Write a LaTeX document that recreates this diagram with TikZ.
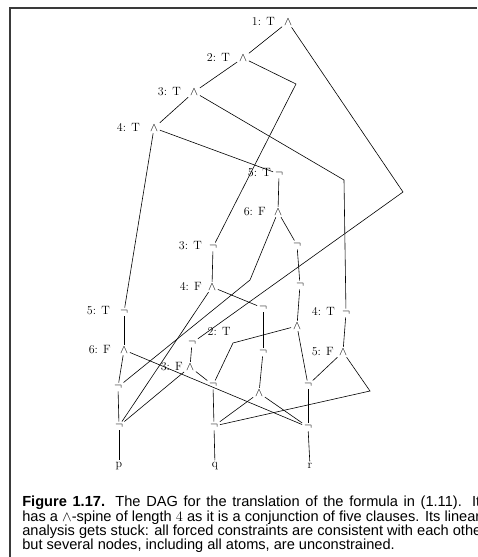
\documentclass[tikz,border=0pt]{standalone}
\usepackage{fontspec}
\newfontfamily\capfont{Liberation Sans}
\usetikzlibrary{positioning}
\definecolor{framegray}{HTML}{3A3A3A}

\tikzset{
  op/.style={inner sep=1.6pt, font=\fontsize{12}{14}\selectfont},
  tag/.style={left=#1, anchor=base east, inner sep=0pt, font=\fontsize{12}{14}\selectfont},
  capbox/.style={anchor=north west, inner sep=0pt, align=left,
    font=\capfont\fontsize{14.6}{14.3}\selectfont},
}

\begin{document}
\begin{tikzpicture}[x=1pt,y=-1pt,line width=0.6pt]
\useasboundingbox (0,0) rectangle (477,557);
\clip (0,0) rectangle (477,557);
% page frame
\draw[framegray,line width=1.3pt] (10,557) -- (10,8) -- (477,8);

% the and-spine
\node[op] (a1) at (288,22) {$\wedge$};
\node[op] (a2) at (243,58) {$\wedge$};
\node[op] (a3) at (194,92) {$\wedge$};
\node[op] (a4) at (154,128) {$\wedge$};
\node[tag=7pt of a1.base west] (t1) {1: T};
\node[tag=7pt of a2.base west] (t2) {2: T};
\node[tag=7pt of a3.base west] (t3) {3: T};
\node[tag=8pt of a4.base west] (t4) {4: T};

% the five clauses
\node[op] (nA5) at (279,174) {$\neg$};
\node[op] (aA6) at (278,212) {$\wedge$};
\node[op] (nB5) at (124,312) {$\neg$};
\node[op] (aB6) at (124,350) {$\wedge$};
\node[op] (nC4) at (346,313) {$\neg$};
\node[op] (aC5) at (343,352) {$\wedge$};
\node[op] (nD3) at (213,247) {$\neg$};
\node[op] (aD4) at (212,287) {$\wedge$};
\node[op] (nE2) at (192,343) {$\neg$};
\node[op] (aE3) at (190,367) {$\wedge$};
\node[tag=2pt of nA5.base west] (tA5) {5: T};
\node[tag=6pt of aA6.base west] (tA6) {6: F};
\node[tag=8pt of nB5.base west] (tB5) {5: T};
\node[tag=7pt of aB6.base west] (tB6) {6: F};
\node[tag=5pt of nC4.base west] (tC4) {4: T};
\node[tag=3pt of aC5.base west] (tC5) {5: F};
\node[tag=5pt of nD3.base west] (tD3) {3: T};
\node[tag=4pt of aD4.base west] (tD4) {4: F};
\node[tag=1pt of aE3.base west] (tE3) {3: F};
\node[inner sep=0pt, anchor=base west, font=\fontsize{12}{14}\selectfont]
  (tE2) at ([xshift=9.5pt,yshift=10pt]nE2.base east) {2: T};

% shared subterms
\node[op] (u1) at (297,245) {$\neg$};
\node[op] (u2) at (300,285) {$\neg$};
\node[op] (u3) at (297,326) {$\wedge$};
\node[op] (v1) at (263,308) {$\neg$};
\node[op] (v2) at (263,352) {$\neg$};
\node[op] (v3) at (259,393) {$\wedge$};

% atoms
\node[op] (np1) at (118,387) {$\neg$};
\node[op] (np2) at (119,426) {$\neg$};
\node[op] (p) at (119,466) {p};
\node[op] (nq1) at (213,385) {$\neg$};
\node[op] (nq2) at (214,426) {$\neg$};
\node[op] (q) at (215,466) {q};
\node[op] (nr1) at (308,385) {$\neg$};
\node[op] (nr2) at (308,427) {$\neg$};
\node[op] (r) at (310,466) {r};

% bends
\coordinate (b1) at (403,192);
\coordinate (b2) at (296,84);
\coordinate (b3) at (344,180);
\coordinate (b4) at (250,280);
\coordinate (b5) at (233,343);
\coordinate (b6) at (370,391);

\draw (a1) -- (a2);
\draw (a1) -- (b1) -- (nE2);
\draw (a2) -- (a3);
\draw (a2) -- (b2) -- (nD3);
\draw (a3) -- (a4);
\draw (a3) -- (b3) -- (nC4);
\draw (a4) -- (nA5);
\draw (a4) -- (nB5);
\draw (nA5) -- (aA6);
\draw (aA6) -- (b4) -- (np1);
\draw (aA6) -- (u1);
\draw (u1) -- (u2);
\draw (u2) -- (u3);
\draw (u3) -- (b5) -- (nq1);
\draw (u3) -- (nr1);
\draw (nB5) -- (aB6);
\draw (aB6) -- (np1);
\draw (aB6) -- (nr2);
\draw (nC4) -- (aC5);
\draw (aC5) -- (nr1);
\draw (aC5) -- (b6) -- (nq2);
\draw (nD3) -- (aD4);
\draw (aD4) -- (np2);
\draw (aD4) -- (v1);
\draw (v1) -- (v2);
\draw (v2) -- (v3);
\draw (v3) -- (nq2);
\draw (v3) -- (nr2);
\draw (nE2) -- (aE3);
\draw (aE3) -- (np2);
\draw (aE3) -- (nq1);
\draw (np1) -- (np2);
\draw (np2) -- (p);
\draw (nq1) -- (nq2);
\draw (nq2) -- (q);
\draw (nr1) -- (nr2);
\draw (nr2) -- (r);

% caption
\node[capbox] (cap) at (22,496) {%
  \makebox[458pt][s]{\textbf{Figure 1.17.} The DAG for the translation of the formula in (1.11). It}\\
  \makebox[458pt][s]{has a $\wedge$-spine of length $4$ as it is a conjunction of five clauses. Its linear}\\
  analysis gets stuck: all forced constraints are consistent with each other\\
  but several nodes, including all atoms, are unconstrained.};
\end{tikzpicture}
\end{document}
